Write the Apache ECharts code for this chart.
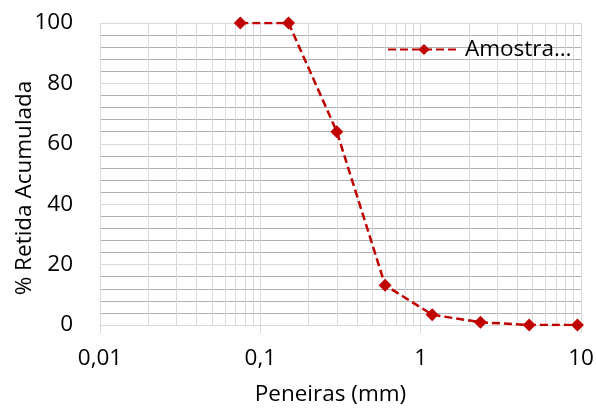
<!DOCTYPE html>
<html>
<head>
<meta charset="utf-8">
<script src="https://cdn.jsdelivr.net/npm/echarts@6/dist/echarts.min.js"></script>
<style>
html,body{margin:0;padding:0;background:#fff;}
#c{width:596px;height:408px;}
</style>
</head>
<body>
<div id="c"></div>
<script>
// Sieve openings (mm) and cumulative % retained
var sieves = [0.075, 0.15, 0.3, 0.6, 1.18, 2.36, 4.75, 9.5];
var retained = [100, 100, 64, 13.2, 3.4, 0.9, 0, 0];
var seriesName = 'Amostra…';
var xTicks = [0.01, 0.1, 1, 10];
var yTicks = [0, 20, 40, 60, 80, 100];
var minorFactors = [2, 3, 4, 5, 6, 7, 8, 9];

var FONT = 'Open Sans';
var FS = 22.5;
var minorX = [];
xTicks.slice(0, -1).forEach(function (d) {
  minorFactors.forEach(function (f) { minorX.push({ xAxis: +(d * f).toPrecision(6) }); });
});

var data = sieves.map(function (s, i) { return [s, retained[i]]; });

var chart = echarts.init(document.getElementById('c'), null, { renderer: 'canvas' });
chart.setOption({
  animation: false,
  textStyle: { fontFamily: FONT },
  grid: { left: 100, right: 15, top: 23, bottom: 83, containLabel: false, outerBoundsMode: 'none' },
  legend: {
    show: true,
    left: 382,
    top: 33,
    itemWidth: 72,
    itemHeight: 14,
    itemGap: 6,
    textStyle: { fontFamily: FONT, fontSize: FS, color: '#000' },
    data: [seriesName]
  },
  xAxis: {
    type: 'log',
    logBase: 10,
    min: xTicks[0],
    max: xTicks[xTicks.length - 1],
    name: 'Peneiras (mm)',
    nameLocation: 'middle',
    nameGap: 58,
    nameMoveOverlap: false,
    nameTextStyle: { fontFamily: FONT, fontSize: FS, color: '#000', padding: [0, 20, 0, 0] },
    axisLine: { show: false },
    axisTick: { show: true, length: 8, lineStyle: { color: '#d9d9d9', width: 1 } },
    axisLabel: {
      fontFamily: FONT, fontSize: FS, color: '#000', margin: 22,
      formatter: function (v) { return String(+v.toPrecision(6)).replace('.', ','); }
    },
    splitLine: { show: true, lineStyle: { color: '#d9d9d9', width: 1 } },
    minorTick: { show: false },
    minorSplitLine: { show: false }
  },
  yAxis: {
    type: 'value',
    min: yTicks[0],
    max: yTicks[yTicks.length - 1],
    interval: 20,
    name: '% Retida Acumulada',
    nameLocation: 'middle',
    nameGap: 64,
    nameMoveOverlap: false,
    nameTextStyle: { fontFamily: FONT, fontSize: FS, color: '#000', padding: [0, 28, 0, 0] },
    axisLine: { show: false },
    axisTick: { show: false },
    axisLabel: { fontFamily: FONT, fontSize: FS, color: '#000', margin: 27, padding: [5, 0, 0, 0] },
    splitLine: { show: true, lineStyle: { color: '#d9d9d9', width: 1 } },
    minorTick: { show: false, splitNumber: 5 },
    minorSplitLine: { show: true, lineStyle: { color: '#b0b0b0', width: 1 } }
  },
  series: [{
    name: seriesName,
    type: 'line',
    data: data,
    symbol: 'diamond',
    symbolSize: 13,
    itemStyle: { color: '#c00000' },
    lineStyle: { color: '#c00000', width: 2.5, type: [8, 4] },
    z: 5,
    markLine: {
      silent: true,
      symbol: 'none',
      label: { show: false },
      animation: false,
      lineStyle: { color: '#d9d9d9', width: 1, type: 'solid' },
      z: 0,
      data: minorX
    }
  }]
});
</script>
</body>
</html>
